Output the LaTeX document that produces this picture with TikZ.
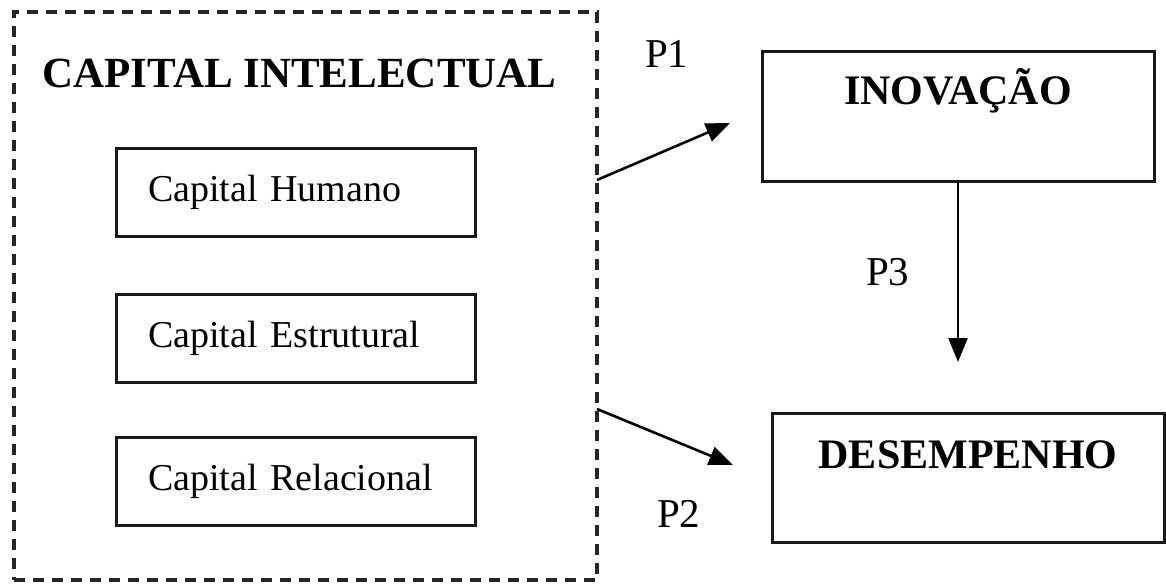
\documentclass[tikz,border=0pt]{standalone}
\usepackage{fontspec}
\setmainfont{Liberation Serif}
\usetikzlibrary{arrows.meta}
\begin{document}
\begin{tikzpicture}[x=1pt,y=-1pt,
  every node/.style={inner sep=0pt, outer sep=0pt},
  groupbox/.style={draw=black!85, line width=3.4pt, dash pattern=on 11pt off 8pt,
    minimum width=583pt, minimum height=568pt},
  capbox/.style={draw=black!90, line width=3pt, minimum height=88pt,
    text width=295pt, align=left, inner xsep=32pt, font=\fontsize{38}{40}\selectfont},
  bigbox/.style={draw=black!90, line width=3pt},
  bigtext/.style={font=\fontsize{42}{44}\selectfont\bfseries, anchor=base},
  plabel/.style={font=\fontsize{41}{43}\selectfont, anchor=base west},
  arr/.style={line width=2.6pt, -{Triangle[length=24pt,width=19pt]}}
]
\useasboundingbox (0,0) rectangle (1166,587);

% group of intellectual capital
\node[groupbox] (ci) at (305.5,296) {};
\node[font=\fontsize{43}{45}\selectfont\bfseries, anchor=base] (citit) at (299.5,87) {CAPITAL INTELECTUAL};

\node[capbox] (ch) at (295.5,192) {Capital Humano};
\node[capbox] (ce) at (295.5,338) {Capital Estrutural};
\node[capbox] (cr) at (295.5,481) {Capital Relacional};

% right boxes
\node[bigbox, minimum width=392pt, minimum height=130pt] (inov) at (958,116) {};
\node[bigtext] (inovt) at (958,104) {INOVAÇÃO};
\node[bigbox, minimum width=392pt, minimum height=129pt] (des) at (968,477.5) {};
\node[bigtext] (dest) at (968,468) {DESEMPENHO};

% arrows
\coordinate (a1s) at ([yshift=116pt]ci.east);
\coordinate (a1e) at (730,123);
\coordinate (a2s) at ([yshift=-113pt]ci.east);
\coordinate (a2e) at (733,465);
\coordinate (a3e) at (958,362);
\draw[arr] (a1s) -- (a1e);
\draw[arr] (a2s) -- (a2e);
\draw[arr] (inov.south) -- (a3e);

% labels
\node[plabel] (p1) at (645,67) {P1};
\node[plabel] (p2) at (657,527) {P2};
\node[plabel] (p3) at (866,285) {P3};
\end{tikzpicture}
\end{document}
